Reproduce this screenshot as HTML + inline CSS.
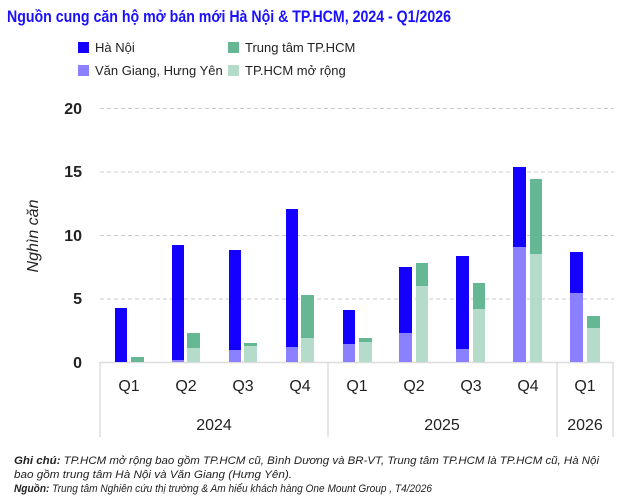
<!DOCTYPE html>
<html><head><meta charset="utf-8"><style>
html,body{margin:0;padding:0;background:#fff;}
svg{display:block;font-family:"Liberation Sans","DejaVu Sans",sans-serif;}
</style></head><body>
<svg width="626" height="498" viewBox="0 0 626 498" xmlns="http://www.w3.org/2000/svg">
<text x="7" y="22" font-size="17" font-weight="bold" fill="#1a10ff" textLength="444" lengthAdjust="spacingAndGlyphs">Nguồn cung căn hộ mở bán mới Hà Nội &amp; TP.HCM, 2024 - Q1/2026</text>
<rect x="78" y="42" width="11" height="11" fill="#1400ff"/>
<text x="95" y="52" font-size="13" fill="#222">Hà Nội</text>
<rect x="78" y="65" width="11" height="11" fill="#8b80ff"/>
<text x="95" y="75" font-size="13" fill="#222">Văn Giang, Hưng Yên</text>
<rect x="228" y="42" width="11" height="11" fill="#66b894"/>
<text x="245" y="52" font-size="13" fill="#222">Trung tâm TP.HCM</text>
<rect x="228" y="65" width="11" height="11" fill="#b5dcca"/>
<text x="245" y="75" font-size="13" fill="#222">TP.HCM mở rộng</text>
<g stroke="#ccc" stroke-dasharray="4,3" stroke-width="1">
<line x1="100" y1="108.5" x2="614" y2="108.5"/>
<line x1="100" y1="172" x2="614" y2="172"/>
<line x1="100" y1="235.5" x2="614" y2="235.5"/>
<line x1="100" y1="299" x2="614" y2="299"/>
</g>
<g font-size="16" font-weight="bold" fill="#222" text-anchor="end">
<text x="82" y="114">20</text><text x="82" y="177">15</text><text x="82" y="241">10</text><text x="82" y="304">5</text><text x="82" y="368">0</text>
</g>
<text transform="translate(38,236) rotate(-90)" font-size="16" font-style="italic" fill="#222" text-anchor="middle">Nghìn căn</text>
<g stroke="#ddd" stroke-width="1.5">
<line x1="100" y1="362.5" x2="614" y2="362.5"/>
<line x1="100" y1="362" x2="100" y2="437"/>
<line x1="328" y1="362" x2="328" y2="437"/>
<line x1="557" y1="362" x2="557" y2="437"/>
<line x1="613" y1="362" x2="613" y2="437"/>
</g>
<g>
<!-- 2024 Q1 -->
<rect x="115" y="308" width="12" height="54" fill="#1400ff"/>
<rect x="131" y="357" width="13" height="5" fill="#66b894"/>
<!-- Q2 -->
<rect x="172" y="245" width="12" height="117" fill="#1400ff"/>
<rect x="172" y="360" width="12" height="2" fill="#8b80ff"/>
<rect x="187" y="333" width="13" height="29" fill="#66b894"/>
<rect x="187" y="348" width="13" height="14" fill="#b5dcca"/>
<!-- Q3 -->
<rect x="229" y="250" width="12" height="112" fill="#1400ff"/>
<rect x="229" y="350" width="12" height="12" fill="#8b80ff"/>
<rect x="244" y="343" width="13" height="19" fill="#66b894"/>
<rect x="244" y="346" width="13" height="16" fill="#b5dcca"/>
<!-- Q4 -->
<rect x="286" y="209" width="12" height="153" fill="#1400ff"/>
<rect x="286" y="347" width="12" height="15" fill="#8b80ff"/>
<rect x="301" y="295" width="13" height="67" fill="#66b894"/>
<rect x="301" y="338" width="13" height="24" fill="#b5dcca"/>
<!-- 2025 Q1 -->
<rect x="343" y="310" width="12" height="52" fill="#1400ff"/>
<rect x="343" y="344" width="12" height="18" fill="#8b80ff"/>
<rect x="359" y="338" width="13" height="24" fill="#66b894"/>
<rect x="359" y="342" width="13" height="20" fill="#b5dcca"/>
<!-- Q2 -->
<rect x="399" y="267" width="13" height="95" fill="#1400ff"/>
<rect x="399" y="333" width="13" height="29" fill="#8b80ff"/>
<rect x="416" y="263" width="12" height="99" fill="#66b894"/>
<rect x="416" y="286" width="12" height="76" fill="#b5dcca"/>
<!-- Q3 -->
<rect x="456" y="256" width="13" height="106" fill="#1400ff"/>
<rect x="456" y="349" width="13" height="13" fill="#8b80ff"/>
<rect x="473" y="283" width="12" height="79" fill="#66b894"/>
<rect x="473" y="309" width="12" height="53" fill="#b5dcca"/>
<!-- Q4 -->
<rect x="513" y="167" width="13" height="195" fill="#1400ff"/>
<rect x="513" y="247" width="13" height="115" fill="#8b80ff"/>
<rect x="530" y="179" width="12" height="183" fill="#66b894"/>
<rect x="530" y="254" width="12" height="108" fill="#b5dcca"/>
<!-- 2026 Q1 -->
<rect x="570" y="252" width="13" height="110" fill="#1400ff"/>
<rect x="570" y="293" width="13" height="69" fill="#8b80ff"/>
<rect x="587" y="316" width="13" height="46" fill="#66b894"/>
<rect x="587" y="328" width="13" height="34" fill="#b5dcca"/>
</g>
<g font-size="16" fill="#222" text-anchor="middle">
<text x="129" y="391">Q1</text><text x="186" y="391">Q2</text><text x="243" y="391">Q3</text><text x="300" y="391">Q4</text>
<text x="357" y="391">Q1</text><text x="414" y="391">Q2</text><text x="471" y="391">Q3</text><text x="528" y="391">Q4</text>
<text x="585" y="391">Q1</text>
<text x="214" y="430">2024</text><text x="442" y="430">2025</text><text x="585" y="430">2026</text>
</g>
<g font-size="11" font-style="italic" fill="#222">
<text x="14" y="464" textLength="585" lengthAdjust="spacingAndGlyphs"><tspan font-weight="bold">Ghi chú:</tspan> TP.HCM mở rộng bao gồm TP.HCM cũ, Bình Dương và BR-VT, Trung tâm TP.HCM là TP.HCM cũ, Hà Nội</text>
<text x="14" y="478" textLength="278" lengthAdjust="spacingAndGlyphs">bao gồm trung tâm Hà Nội và Văn Giang (Hưng Yên).</text>
<text x="14" y="492" textLength="418" lengthAdjust="spacingAndGlyphs"><tspan font-weight="bold">Nguồn:</tspan> Trung tâm Nghiên cứu thị trường &amp; Am hiểu khách hàng One Mount Group , T4/2026</text>
</g>
</svg>
</body></html>
